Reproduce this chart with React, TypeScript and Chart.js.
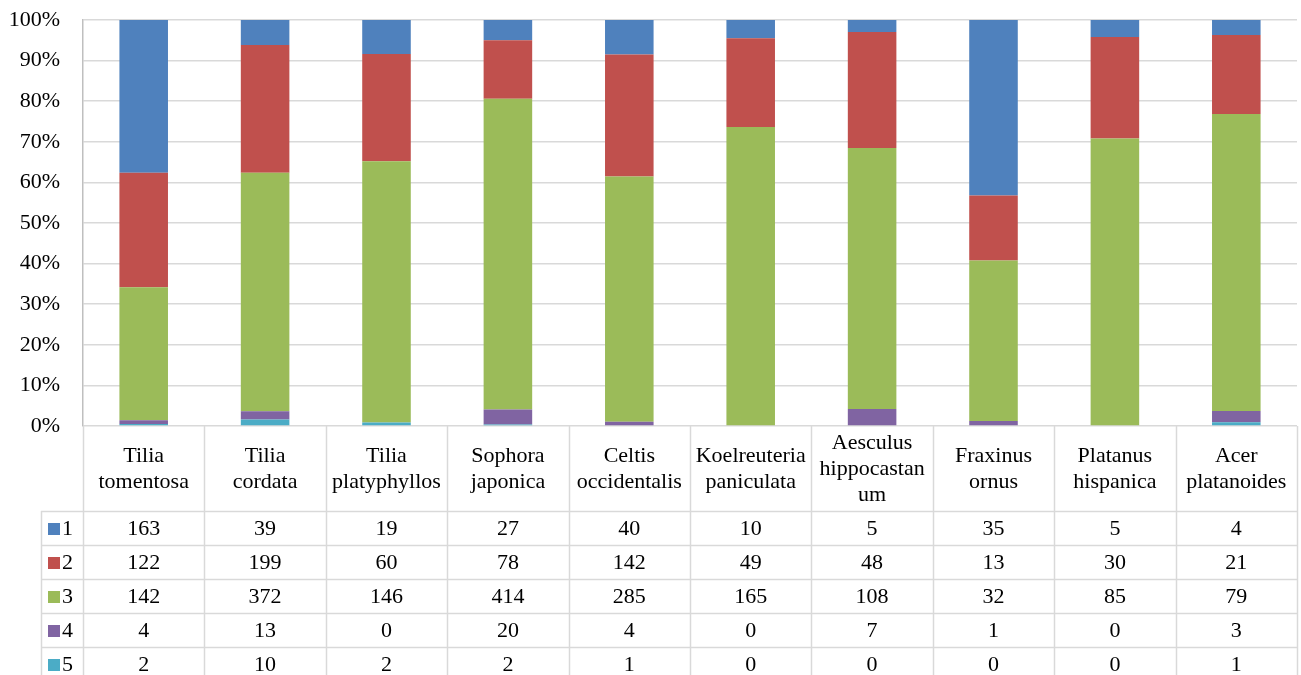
import React, { useEffect, useRef } from "react";
import { Chart, registerables } from "chart.js";

Chart.register(...registerables);

const categories = [
  "Tilia tomentosa",
  "Tilia cordata",
  "Tilia platyphyllos",
  "Sophora japonica",
  "Celtis occidentalis",
  "Koelreuteria paniculata",
  "Aesculus hippocastanum",
  "Fraxinus ornus",
  "Platanus hispanica",
  "Acer platanoides",
];
const categoryLabelLines = [
  ["Tilia", "tomentosa"],
  ["Tilia", "cordata"],
  ["Tilia", "platyphyllos"],
  ["Sophora", "japonica"],
  ["Celtis", "occidentalis"],
  ["Koelreuteria", "paniculata"],
  ["Aesculus", "hippocastan", "um"],
  ["Fraxinus", "ornus"],
  ["Platanus", "hispanica"],
  ["Acer", "platanoides"],
];
const seriesNames = ["1", "2", "3", "4", "5"];
const series1 = [163, 39, 19, 27, 40, 10, 5, 35, 5, 4];
const series2 = [122, 199, 60, 78, 142, 49, 48, 13, 30, 21];
const series3 = [142, 372, 146, 414, 285, 165, 108, 32, 85, 79];
const series4 = [4, 13, 0, 20, 4, 0, 7, 1, 0, 3];
const series5 = [2, 10, 2, 2, 1, 0, 0, 0, 0, 1];
const seriesColors = ["#4F81BD", "#C0504D", "#9BBB59", "#8064A2", "#4BACC6"];
const yTicks = [0, 0.1, 0.2, 0.3, 0.4, 0.5, 0.6, 0.7, 0.8, 0.9, 1];

const allSeries = [series1, series2, series3, series4, series5];
const totals = categories.map((_, i) => allSeries.reduce((s, arr) => s + arr[i], 0));

const FONT = '"Liberation Serif", "Times New Roman", serif';
const FONT_SIZE = 22;
const LINE_COLOR = "#D9D9D9";

const tablePlugin = {
  id: "dataTable",
  afterDraw(chart: any) {
    const ctx = chart.ctx;
    const x = chart.scales.x;
    const area = chart.chartArea;
    const n = categories.length;
    const colW = (area.right - area.left) / n;
    const top = area.bottom;
    const bottom = chart.height;
    const headerH = 85;
    const rowH = 34;
    const legendLeft = 41;
    ctx.save();
    ctx.strokeStyle = LINE_COLOR;
    ctx.lineWidth = 1.5;
    for (let i = 0; i <= n; i++) {
      const px = Math.round(area.left + i * colW) + 0.5;
      ctx.beginPath();
      ctx.moveTo(px, top);
      ctx.lineTo(px, bottom);
      ctx.stroke();
    }
    ctx.beginPath();
    ctx.moveTo(legendLeft + 0.5, top + headerH);
    ctx.lineTo(legendLeft + 0.5, bottom);
    ctx.stroke();
    for (let r = 0; r < seriesNames.length; r++) {
      const py = Math.round(top + headerH + r * rowH) + 0.5;
      ctx.beginPath();
      ctx.moveTo(legendLeft, py);
      ctx.lineTo(area.right, py);
      ctx.stroke();
    }
    ctx.fillStyle = "#000";
    ctx.font = `${FONT_SIZE}px ${FONT}`;
    ctx.textAlign = "center";
    ctx.textBaseline = "middle";
    const lineH = 26;
    categoryLabelLines.forEach((lines, i) => {
      const cx = x.getPixelForValue(i);
      const cy = top + headerH / 2 + 1;
      lines.forEach((ln, k) => {
        ctx.fillText(ln, cx, cy + (k - (lines.length - 1) / 2) * lineH);
      });
    });
    allSeries.forEach((arr, r) => {
      const cy = top + headerH + r * rowH + rowH / 2 + 1;
      arr.forEach((v, i) => {
        ctx.fillText(String(v), x.getPixelForValue(i), cy);
      });
      ctx.fillStyle = seriesColors[r];
      ctx.fillRect(48, cy - 6, 12, 12);
      ctx.fillStyle = "#000";
      ctx.textAlign = "left";
      ctx.fillText(seriesNames[r], 62, cy);
      ctx.textAlign = "center";
    });
    ctx.restore();
  },
};

export default function App() {
  const ref = useRef<HTMLCanvasElement>(null);
  useEffect(() => {
    document.body.style.margin = "0";
    const order = [4, 3, 2, 1, 0];
    const chart = new Chart(ref.current!, {
      type: "bar",
      data: {
        labels: categories,
        datasets: order.map((s) => ({
          label: seriesNames[s],
          data: allSeries[s].map((v, i) => v / totals[i]),
          backgroundColor: seriesColors[s],
          borderWidth: 0,
          categoryPercentage: 1,
          barPercentage: 0.4,
        })),
      },
      options: {
        responsive: false,
        animation: false,
        devicePixelRatio: 1,
        layout: { padding: { top: 20, right: 4, left: 0, bottom: 0 } },
        plugins: { legend: { display: false }, tooltip: { enabled: false } },
        scales: {
          x: {
            stacked: true,
            ticks: { display: false },
            grid: { display: false },
            border: { display: false },
            afterFit: (scale: any) => {
              scale.height = 249;
              scale.paddingLeft = 0;
              scale.paddingRight = 0;
            },
          },
          y: {
            stacked: true,
            min: 0,
            max: 1,
            afterBuildTicks: (scale: any) => {
              scale.ticks = yTicks.map((v) => ({ value: v }));
            },
            afterFit: (scale: any) => {
              scale.width = 83;
              scale.paddingTop = 0;
              scale.paddingBottom = 0;
            },
            ticks: {
              color: "#000",
              padding: 23,
              font: { family: FONT, size: FONT_SIZE },
              callback: (v: any) => `${Math.round(Number(v) * 100)}%`,
            },
            grid: { color: LINE_COLOR, lineWidth: 1.5, drawTicks: false },
            border: { color: "#BFBFBF", width: 1.5 },
          },
        },
      },
      plugins: [tablePlugin],
    });
    return () => chart.destroy();
  }, []);
  return (
    <div style={{ position: "fixed", left: 0, top: 0, width: 1301, height: 675 }}>
      <canvas ref={ref} width={1301} height={675} style={{ width: 1301, height: 675 }} />
    </div>
  );
}
